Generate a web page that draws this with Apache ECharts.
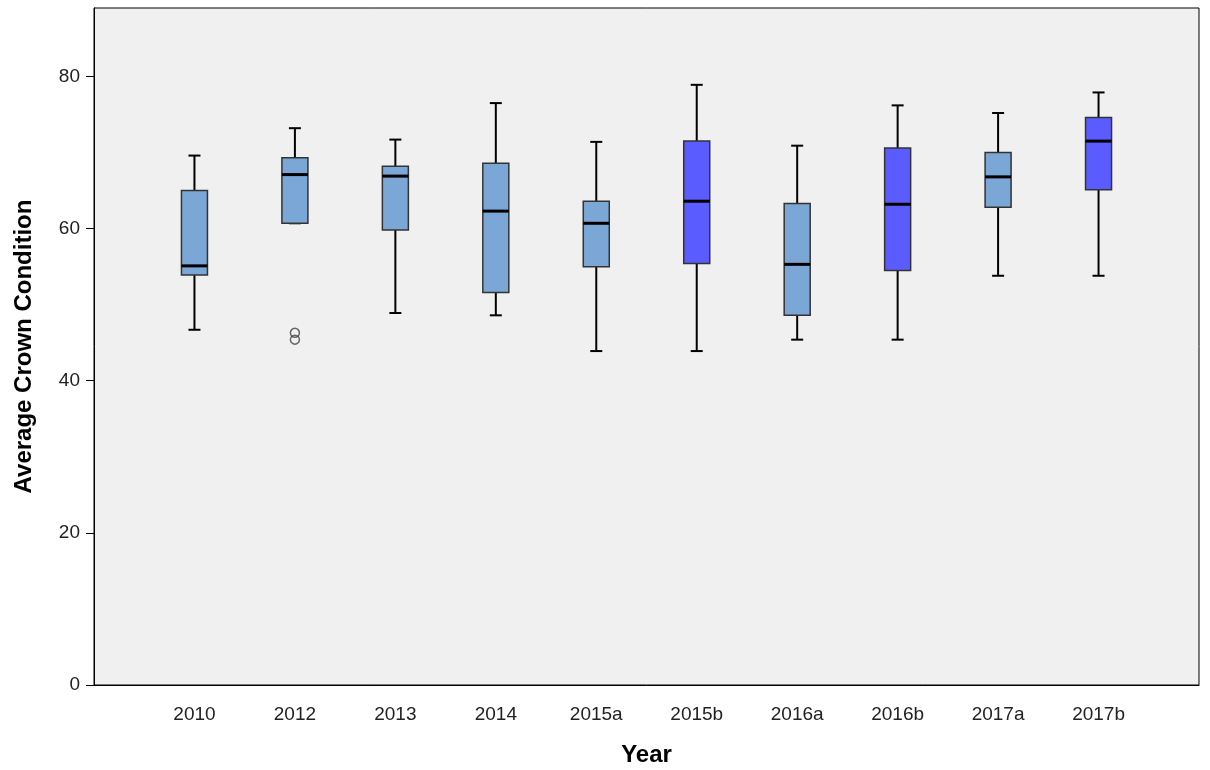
<!DOCTYPE html>
<html>
<head>
<meta charset="utf-8">
<script src="https://cdn.jsdelivr.net/npm/echarts@6/dist/echarts.min.js"></script>
<style>html,body{margin:0;padding:0;background:#fff}#main{width:1210px;height:770px}</style>
</head>
<body>
<div id="main"></div>
<script>
// categories and box stats
const years = ["2010", "2012", "2013", "2014", "2015a", "2015b", "2016a", "2016b", "2017a", "2017b"]
const lows = [46.7, 60.7, 48.9, 48.6, 43.9, 43.9, 45.4, 45.4, 53.8, 53.8]
const q1s = [53.9, 60.7, 59.8, 51.6, 55.0, 55.4, 48.6, 54.5, 62.8, 65.1]
const medians = [55.1, 67.1, 66.9, 62.3, 60.7, 63.6, 55.3, 63.2, 66.8, 71.5]
const q3s = [65.0, 69.3, 68.2, 68.6, 63.6, 71.5, 63.3, 70.6, 70.0, 74.6]
const highs = [69.6, 73.2, 71.7, 76.5, 71.4, 78.9, 70.9, 76.2, 75.2, 77.9]
// 0 = light blue, 1 = dark blue
const groups = [0, 0, 0, 0, 0, 1, 0, 1, 0, 1]
const outliers = [[1, 46.3], [1, 45.4]]
const colors = ["#7ba7d6", "#5b5cff"]

const boxData = years.map((y, i) => [i, lows[i], q1s[i], medians[i], q3s[i], highs[i], groups[i]])

const chart = echarts.init(document.getElementById('main'))

function renderBox(params, api) {
    const i = api.value(0)
    const pLow = api.coord([i, api.value(1)])
    const pQ1 = api.coord([i, api.value(2)])
    const pMed = api.coord([i, api.value(3)])
    const pQ3 = api.coord([i, api.value(4)])
    const pHigh = api.coord([i, api.value(5)])
    const x = pLow[0]
    const bw = 26, cw = 12
    const line = { stroke: '#000', lineWidth: 2 }
    return {
        type: 'group',
        children: [
            { type: 'line', shape: { x1: x, y1: pQ3[1], x2: x, y2: pHigh[1] }, style: line },
            { type: 'line', shape: { x1: x, y1: pQ1[1], x2: x, y2: pLow[1] }, style: line },
            { type: 'line', shape: { x1: x - cw / 2, y1: pHigh[1], x2: x + cw / 2, y2: pHigh[1] }, style: line },
            { type: 'line', shape: { x1: x - cw / 2, y1: pLow[1], x2: x + cw / 2, y2: pLow[1] }, style: line },
            {
                type: 'rect',
                shape: { x: x - bw / 2, y: pQ3[1], width: bw, height: pQ1[1] - pQ3[1] },
                style: { fill: colors[api.value(6)], stroke: '#333', lineWidth: 1.5 }
            },
            { type: 'line', shape: { x1: x - bw / 2, y1: pMed[1], x2: x + bw / 2, y2: pMed[1] }, style: { stroke: '#000', lineWidth: 3 } }
        ]
    }
}

const option = {
    animation: false,
    backgroundColor: '#fff',
    grid: {
        left: 94, right: 11, top: 8, bottom: 85,
        containLabel: false, outerBoundsMode: 'none',
        show: true, backgroundColor: '#f0f0f0', borderColor: '#000', borderWidth: 1
    },
    xAxis: {
        type: 'value', min: -1, max: 10, interval: 1,
        name: 'Year', nameLocation: 'middle', nameGap: 58,
        nameTextStyle: { fontSize: 24, fontWeight: 'bold', color: '#000', fontFamily: 'Liberation Sans' },
        splitLine: { show: false },
        axisLine: { lineStyle: { color: '#000' } },
        axisTick: { show: false },
        axisLabel: {
            fontSize: 19, color: '#222', fontFamily: 'Liberation Sans', margin: 20,
            formatter: v => (years[v] !== undefined ? years[v] : '')
        }
    },
    yAxis: {
        type: 'value', min: 0, max: 89, interval: 20,
        name: 'Average Crown Condition', nameLocation: 'middle', nameGap: 58,
        nameTextStyle: { fontSize: 24, fontWeight: 'bold', color: '#000', fontFamily: 'Liberation Sans' },
        splitLine: { show: false },
        axisLine: { show: true, onZero: false, lineStyle: { color: '#000' } },
        axisTick: { show: true, length: 8, lineStyle: { color: '#000' } },
        axisLabel: { fontSize: 19, color: '#222', fontFamily: 'Liberation Sans', margin: 14, showMaxLabel: false }
    },
    series: [
        { type: 'custom', renderItem: renderBox, data: boxData, encode: { x: 0, y: [1, 5] } },
        {
            type: 'scatter', data: outliers, symbol: 'circle', symbolSize: 9,
            itemStyle: { color: 'rgba(0,0,0,0)', borderColor: '#444', borderWidth: 1.5 }
        }
    ]
}
chart.setOption(option)
</script>
</body>
</html>
